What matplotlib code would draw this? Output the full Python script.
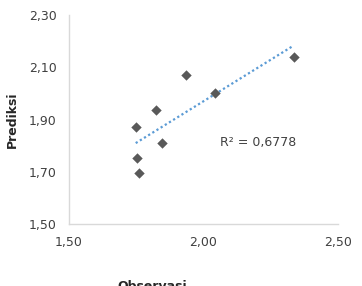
import numpy as np
import matplotlib.pyplot as plt

# observed vs predicted values
observasi = [1.748, 1.753, 1.761, 1.823, 1.845, 1.935, 2.044, 2.335]
prediksi = [1.873, 1.754, 1.695, 1.937, 1.811, 2.070, 2.003, 2.140]
r2_label = "R² = 0,6778"
x_ticks = [1.50, 2.00, 2.50]
y_ticks = [1.50, 1.70, 1.90, 2.10, 2.30]

fig = plt.figure(figsize=(3.62, 2.86), dpi=100)
ax = fig.add_axes([0.1906, 0.2168, 0.7431, 0.7297])

ax.scatter(observasi, prediksi, marker="D", s=28, color="#595959", zorder=3, linewidths=0)

# linear trendline
slope, intercept = np.polyfit(observasi, prediksi, 1)
xs = np.array([min(observasi), max(observasi)])
ax.plot(xs, slope * xs + intercept, linestyle=(0, (1, 1.2)), color="#5b9bd5", linewidth=1.6, zorder=2)

ax.text(2.06, 1.812, r2_label, fontsize=9, color="#404040", va="center", ha="left")

ax.set_xlim(1.5, 2.5)
ax.set_ylim(1.5, 2.3)
ax.set_xticks(x_ticks)
ax.set_yticks(y_ticks)
ax.set_xticklabels([f"{v:.2f}".replace(".", ",") for v in x_ticks])
ax.set_yticklabels([f"{v:.2f}".replace(".", ",") for v in y_ticks])
ax.tick_params(length=0, labelsize=9, colors="#404040", pad=9)

for side in ["top", "right"]:
    ax.spines[side].set_visible(False)
for side in ["left", "bottom"]:
    ax.spines[side].set_color("#d9d9d9")
    ax.spines[side].set_linewidth(1)

fig.text(12.7 / 362, 1 - 120 / 286, "Prediksi", rotation=90, fontsize=9, fontweight="bold",
         color="#262626", ha="center", va="center")
fig.text(152 / 362, 1 - 287 / 286, "Observasi", fontsize=9, fontweight="bold",
         color="#262626", ha="center", va="center")

fig.savefig("out.png", dpi=100)
